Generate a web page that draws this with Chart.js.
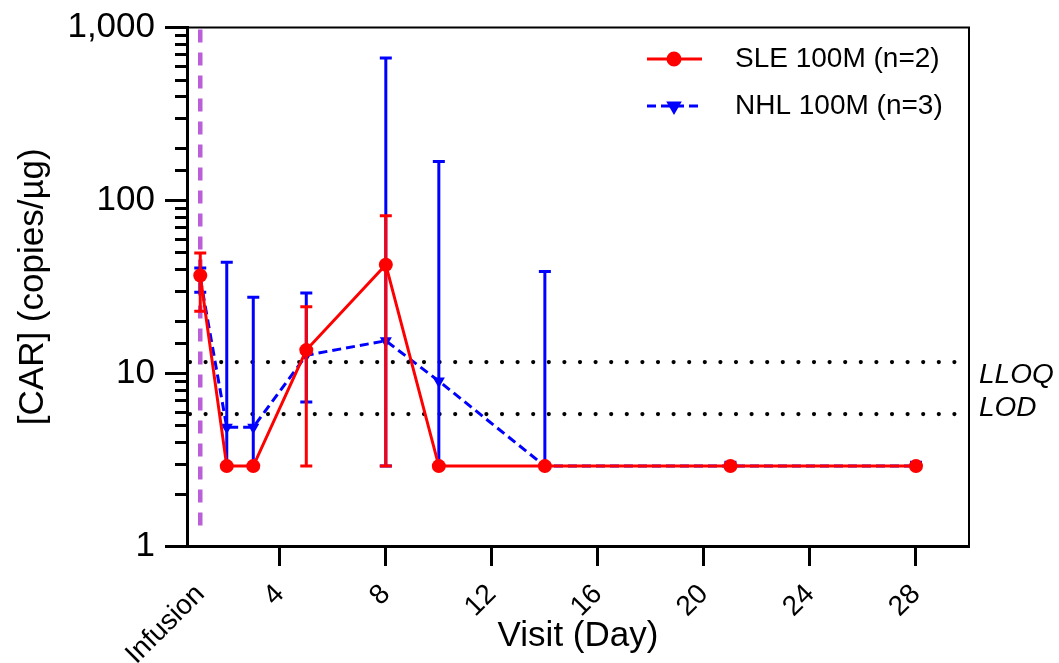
<!DOCTYPE html>
<html>
<head>
<meta charset="utf-8">
<title>CAR transgene levels by visit</title>
<script src="https://cdn.jsdelivr.net/npm/chart.js@4.4.1/dist/chart.umd.min.js"></script>
<style>
  html, body { margin: 0; padding: 0; background: #fff; }
  #wrap { width: 1059px; height: 663px; position: relative; }
</style>
</head>
<body>
<div id="wrap"><canvas id="carChart"></canvas></div>
<script>
// Visit days and tick labels
const days = [1, 2, 3, 5, 8, 10, 14, 21, 28];
const xTickValues = [1, 4, 8, 12, 16, 20, 24, 28];
const xTickLabels = ['Infusion', '4', '8', '12', '16', '20', '24', '28'];
const yTickLabels = { 1: '1', 10: '10', 100: '100', 1000: '1,000' };

// SLE 100M (n=2): mean and error bar ends
const sleMean = [36.7, 2.9, 2.9, 13.6, 42.4, 2.9, 2.9, 2.9, 2.9];
const sleLow  = [22.8, 2.9, 2.9, 2.9, 2.9, 2.9, 2.9, 2.9, 2.9];
const sleHigh = [49.5, 2.9, 2.9, 24.2, 81.5, 2.9, 2.9, 2.9, 2.9];

// NHL 100M (n=3): mean and error bar ends
const nhlMean = [35.5, 4.86, 4.86, 12.7, 15.4, 9.0, 2.9, 2.9, 2.9];
const nhlLow  = [29.4, 2.9, 2.9, 6.8, 2.9, 2.9, 2.9, 2.9, 2.9];
const nhlHigh = [40.6, 43.9, 27.5, 29.1, 665, 168, 38.8, 3.05, 3.05];

// Assay limits and the infusion marker
const limitNames = ['LLOQ', 'LOD'];
const limitValues = [11.6, 5.8];
const infusionDay = 1;
const infusionRange = [1.2, 1000];

const RED = '#ff0000';
const BLUE = '#0000ff';
const PURPLE = '#bb5fd9';
const FONT = '"Liberation Sans", Arial, sans-serif';

function toPoints(ys) {
  return days.map((d, i) => ({ x: d, y: ys[i] }));
}

const isDecade = v => Math.abs(Math.log10(v) - Math.round(Math.log10(v))) < 1e-9;

// error bars are drawn right before their own line, so the red series stays on top
const errorBars = {
  id: 'errorBars',
  beforeDatasetDraw(chart, args) {
    const ds = chart.data.datasets[args.index];
    if (!ds.errLow) return;
    const xs = chart.scales.x, ys = chart.scales.y, ctx = chart.ctx;
    ctx.save();
    ctx.strokeStyle = ds.borderColor;
    ctx.lineWidth = 3;
    ctx.setLineDash([]);
    ds.data.forEach((p, i) => {
      const x = xs.getPixelForValue(p.x);
      const yLo = ys.getPixelForValue(ds.errLow[i]);
      const yHi = ys.getPixelForValue(ds.errHigh[i]);
      ctx.beginPath();
      ctx.moveTo(x, yLo);
      ctx.lineTo(x, yHi);
      if (ds.errHigh[i] > p.y) { ctx.moveTo(x - 6, yHi); ctx.lineTo(x + 6, yHi); }
      if (ds.errLow[i] < p.y) { ctx.moveTo(x - 6, yLo); ctx.lineTo(x + 6, yLo); }
      ctx.stroke();
    });
    ctx.restore();
  }
};

// dotted limit lines, infusion marker, frame, minor ticks and legend
const decorations = {
  id: 'decorations',
  beforeDatasetsDraw(chart) {
    const { ctx, chartArea: a } = chart;
    const xs = chart.scales.x, ys = chart.scales.y;
    ctx.save();
    // infusion marker
    const xi = xs.getPixelForValue(infusionDay);
    ctx.strokeStyle = PURPLE;
    ctx.lineWidth = 4.5;
    ctx.setLineDash([13, 10]);
    ctx.beginPath();
    ctx.moveTo(xi, ys.getPixelForValue(infusionRange[1]) + 2);
    ctx.lineTo(xi, ys.getPixelForValue(infusionRange[0]));
    ctx.stroke();
    // LLOQ / LOD
    ctx.strokeStyle = '#000';
    ctx.lineWidth = 4.2;
    ctx.lineCap = 'round';
    ctx.setLineDash([0, 15.6]);
    limitValues.forEach(v => {
      const y = ys.getPixelForValue(v);
      ctx.beginPath();
      ctx.moveTo(a.left + 3, y);
      ctx.lineTo(a.right - 10, y);
      ctx.stroke();
    });
    ctx.restore();
  },
  afterDraw(chart) {
    const { ctx, chartArea: a } = chart;
    const ys = chart.scales.y;
    ctx.save();
    // top and right frame
    ctx.strokeStyle = '#000';
    ctx.lineWidth = 2;
    ctx.beginPath();
    ctx.moveTo(a.left, a.top);
    ctx.lineTo(a.right, a.top);
    ctx.lineTo(a.right, a.bottom);
    ctx.stroke();
    // minor y ticks
    ctx.lineWidth = 3;
    ys.ticks.forEach(t => {
      if (isDecade(t.value)) return;
      const y = Math.round(ys.getPixelForValue(t.value)) + 0.5;
      ctx.beginPath();
      ctx.moveTo(a.left - 12, y);
      ctx.lineTo(a.left, y);
      ctx.stroke();
    });
    // limit labels
    ctx.fillStyle = '#000';
    ctx.font = 'italic 28px ' + FONT;
    ctx.textBaseline = 'middle';
    ctx.textAlign = 'left';
    limitNames.forEach((name, i) => {
      const y = ys.getPixelForValue(limitValues[i]);
      ctx.fillText(name, a.right + 10, y + (i === 0 ? 13 : -6));
    });
    // legend
    const rows = [59, 106];
    chart.data.datasets.forEach((ds, i) => {
      const y = rows[i];
      ctx.strokeStyle = ds.borderColor;
      ctx.lineWidth = ds.borderWidth;
      ctx.setLineDash(ds.borderDash || []);
      ctx.beginPath();
      ctx.moveTo(647, y);
      ctx.lineTo(702, y);
      ctx.stroke();
      ctx.setLineDash([]);
      Chart.helpers.drawPoint(ctx, {
        pointStyle: ds.pointStyle,
        radius: ds.pointRadius - 1,
        rotation: ds.pointRotation || 0,
        borderWidth: 1
      }, 674, y);
      ctx.fillStyle = ds.borderColor;
      ctx.fill();
      ctx.fillStyle = '#000';
      ctx.font = '28px ' + FONT;
      ctx.fillText(ds.label, 735, y);
    });
    ctx.restore();
  }
};

const ctx = document.getElementById('carChart').getContext('2d');
const carChart = new Chart(ctx, {
  type: 'line',
  data: {
    datasets: [{
      label: 'SLE 100M (n=2)',
      data: toPoints(sleMean),
      errLow: sleLow,
      errHigh: sleHigh,
      borderColor: RED,
      backgroundColor: RED,
      borderWidth: 3,
      pointStyle: 'circle',
      pointRadius: 7,
      pointBorderWidth: 0,
      order: 0
    }, {
      label: 'NHL 100M (n=3)',
      data: toPoints(nhlMean),
      errLow: nhlLow,
      errHigh: nhlHigh,
      borderColor: BLUE,
      backgroundColor: BLUE,
      borderWidth: 3,
      borderDash: [9, 5],
      pointStyle: 'triangle',
      pointRotation: 180,
      pointRadius: 7,
      pointBorderWidth: 0,
      order: 1
    }]
  },
  options: {
    responsive: true,
    maintainAspectRatio: false,
    animation: false,
    layout: { padding: { top: 20, right: 90, left: 0, bottom: 0 } },
    plugins: {
      legend: { display: false },
      tooltip: { enabled: false }
    },
    scales: {
      x: {
        type: 'linear',
        min: 0.5,
        max: 30,
        afterBuildTicks: scale => { scale.ticks = xTickValues.map(v => ({ value: v })); },
        afterFit: scale => { scale.height = 117; },
        border: { color: '#000', width: 3 },
        grid: {
          drawOnChartArea: false,
          tickLength: 20,
          tickWidth: 3,
          tickColor: c => (c.tick && c.tick.value === infusionDay ? 'rgba(0,0,0,0)' : '#000')
        },
        ticks: {
          autoSkip: false,
          maxRotation: 45,
          minRotation: 45,
          padding: 12,
          color: '#000',
          font: { family: FONT, size: 28 },
          callback: v => xTickLabels[xTickValues.indexOf(v)]
        },
        title: {
          display: true,
          text: 'Visit (Day)',
          color: '#000',
          font: { family: FONT, size: 35 },
          padding: { top: 0, bottom: 6 }
        }
      },
      y: {
        type: 'logarithmic',
        min: 1,
        max: 1000,
        afterFit: scale => { scale.width = 187; },
        border: { color: '#000', width: 3 },
        grid: {
          drawOnChartArea: false,
          tickLength: 22,
          tickWidth: 3,
          tickColor: c => (c.tick && isDecade(c.tick.value) ? '#000' : 'rgba(0,0,0,0)')
        },
        ticks: {
          autoSkip: false,
          padding: 10,
          color: '#000',
          font: { family: FONT, size: 35, lineHeight: 1 },
          callback: v => yTickLabels[v] || ''
        },
        title: {
          display: true,
          text: '[CAR] (copies/µg)',
          color: '#000',
          font: { family: FONT, size: 35 },
          padding: { top: 12, bottom: 0 }
        }
      }
    }
  },
  plugins: [errorBars, decorations]
});
</script>
</body>
</html>
